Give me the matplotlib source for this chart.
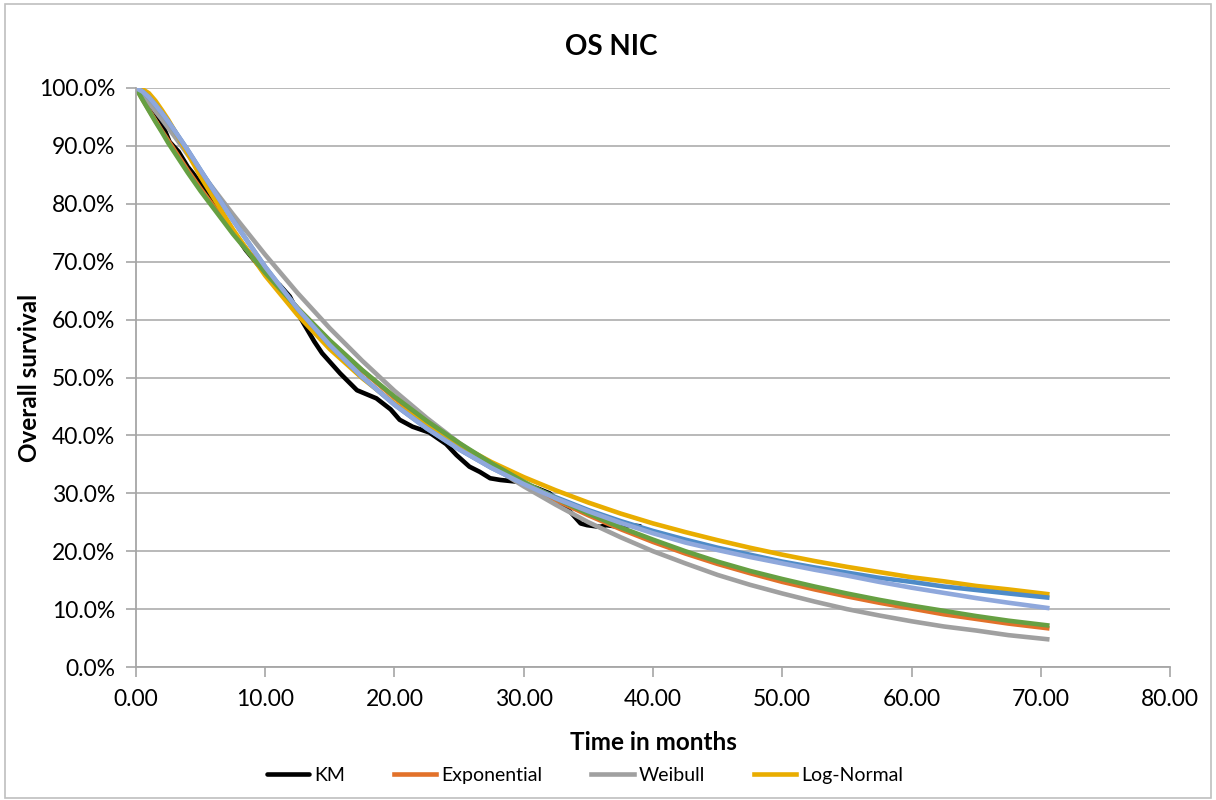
import matplotlib
matplotlib.use('Agg')
from matplotlib import pyplot as plt
from matplotlib.patches import Rectangle
import numpy as np

plt.rcParams['font.family'] = ['Lato', 'DejaVu Sans']

# Kaplan-Meier
km_t = [0, 1, 2, 2.6, 3.3, 4.0, 4.4, 5.5, 7, 8.5, 10, 10.6, 11.1, 11.9, 12.8, 13.8, 14.4,
        15.8, 17.1, 18.6, 19.7, 20.4, 21.4, 22.7, 24.0, 24.8, 25.8, 26.6, 27.4, 28.2, 29.5,
        31.0, 32.0, 33.6, 34.4, 34.9, 35.9, 36.4, 37.4, 38.2, 39.0]
km_s = [1.0, 0.975, 0.94, 0.907, 0.89, 0.864, 0.853, 0.82, 0.77, 0.72, 0.68, 0.665, 0.66,
        0.64, 0.60, 0.562, 0.542, 0.507, 0.478, 0.464, 0.445, 0.427, 0.415, 0.405, 0.385,
        0.366, 0.346, 0.337, 0.326, 0.323, 0.320, 0.309, 0.300, 0.268, 0.248, 0.245, 0.242,
        0.245, 0.242, 0.245, 0.243]

# fitted curves, common time grid
t = [0, 0.5, 1, 1.5, 2, 2.5, 3, 4, 5, 7.5, 10, 12.5, 15, 17.5, 20, 22.5, 25, 27.5, 30,
     32.5, 35, 37.5, 40, 42.5, 45, 47.5, 50, 52.5, 55, 57.5, 60, 62.5, 65, 67.5, 70.5]

expo = [1.0, 0.981, 0.962, 0.944, 0.926, 0.909, 0.892, 0.858, 0.826, 0.751, 0.682, 0.620,
        0.563, 0.512, 0.465, 0.422, 0.384, 0.349, 0.317, 0.288, 0.262, 0.238, 0.216, 0.196,
        0.178, 0.162, 0.147, 0.134, 0.122, 0.111, 0.101, 0.091, 0.083, 0.075, 0.067]

weibull = [1.0, 0.988, 0.975, 0.960, 0.946, 0.931, 0.916, 0.885, 0.855, 0.782, 0.712, 0.646,
           0.585, 0.529, 0.477, 0.430, 0.387, 0.347, 0.312, 0.280, 0.250, 0.224, 0.200,
           0.179, 0.159, 0.142, 0.127, 0.113, 0.100, 0.089, 0.079, 0.070, 0.063, 0.055, 0.048]

lognormal = [1.0, 0.998, 0.991, 0.978, 0.962, 0.945, 0.926, 0.887, 0.847, 0.756, 0.676,
             0.608, 0.549, 0.499, 0.455, 0.417, 0.384, 0.354, 0.328, 0.305, 0.284, 0.265,
             0.248, 0.233, 0.219, 0.206, 0.194, 0.183, 0.173, 0.164, 0.155, 0.148, 0.140,
             0.134, 0.126]

loglogistic = [1.0, 0.994, 0.984, 0.971, 0.957, 0.942, 0.926, 0.893, 0.858, 0.772, 0.691,
               0.619, 0.556, 0.501, 0.453, 0.412, 0.376, 0.344, 0.317, 0.293, 0.271, 0.252,
               0.235, 0.220, 0.206, 0.194, 0.182, 0.172, 0.163, 0.154, 0.147, 0.139, 0.133,
               0.127, 0.120]

gompertz = [1.0, 0.980, 0.961, 0.942, 0.924, 0.905, 0.888, 0.854, 0.822, 0.748, 0.681,
            0.620, 0.564, 0.513, 0.467, 0.425, 0.387, 0.352, 0.320, 0.291, 0.265, 0.241,
            0.220, 0.200, 0.182, 0.166, 0.152, 0.139, 0.127, 0.116, 0.106, 0.097, 0.088,
            0.080, 0.072]

gengamma = [1.0, 0.994, 0.984, 0.971, 0.957, 0.942, 0.926, 0.893, 0.858, 0.772, 0.691,
            0.619, 0.556, 0.501, 0.453, 0.412, 0.376, 0.344, 0.316, 0.291, 0.269, 0.249,
            0.231, 0.215, 0.202, 0.190, 0.179, 0.168, 0.158, 0.147, 0.137, 0.128, 0.119,
            0.111, 0.102]

fig = plt.figure(figsize=(12.16, 8), dpi=100)
ax = fig.add_axes([0.1118, 0.16625, 0.8504, 0.72375])

lw = 3.3
l_km, = ax.plot(km_t, km_s, color='black', lw=lw, label='KM', solid_capstyle='round')
l_exp, = ax.plot(t, expo, color='#E2712A', lw=lw, label='Exponential')
l_wei, = ax.plot(t, weibull, color='#A0A0A0', lw=lw, label='Weibull')
l_ln, = ax.plot(t, lognormal, color='#E9AD00', lw=lw, label='Log-Normal')
ax.plot(t, loglogistic, color='#4E8BC8', lw=lw, label='Log-logistic')
ax.plot(t, gompertz, color='#66A042', lw=lw, label='Gompertz')
ax.plot(t, gengamma, color='#8FA8DC', lw=lw, label='Generalised gamma')

ax.set_xlim(0, 80)
ax.set_ylim(0, 1.0)
ax.set_xticks(np.arange(0, 81, 10))
ax.set_xticklabels(['%.2f' % v for v in np.arange(0, 81, 10)])
ax.set_yticks(np.arange(0, 1.01, 0.1))
ax.set_yticklabels(['%.1f%%' % (v * 100) for v in np.arange(0, 1.01, 0.1)])
ax.tick_params(labelsize=16.5, colors='#A6A6A6', labelcolor='black', length=7, width=1.2)
ax.tick_params(axis='y', pad=8)
ax.tick_params(axis='x', pad=9)
ax.grid(axis='y', color='#B3B3B3', lw=1.3)
ax.set_axisbelow(True)
for s in ['top', 'right']:
    ax.spines[s].set_visible(False)
for s in ['left', 'bottom']:
    ax.spines[s].set_color('#A6A6A6')
    ax.spines[s].set_linewidth(1.3)

fig.text(0.537, 0.0725, 'Time in months', ha='center', va='center', fontsize=17.5,
         fontweight='bold')
fig.text(0.024, 0.5275, 'Overall survival', ha='center', va='center', rotation=90,
         fontsize=17.5, fontweight='bold')
fig.text(0.503, 0.941, 'OS NIC', ha='center', va='center', fontsize=20, fontweight='bold')

fig.legend(handles=[l_km, l_exp, l_wei, l_ln], loc='center', bbox_to_anchor=(0.481, 0.031),
           ncol=4, frameon=False, fontsize=14, handlelength=2.2, columnspacing=2.5,
           handletextpad=0.25)

fig.add_artist(Rectangle((0.004, 0.003), 0.992, 0.992, transform=fig.transFigure,
                         fill=False, edgecolor='#BFBFBF', lw=1.2))

fig.savefig('out.png', dpi=100)
